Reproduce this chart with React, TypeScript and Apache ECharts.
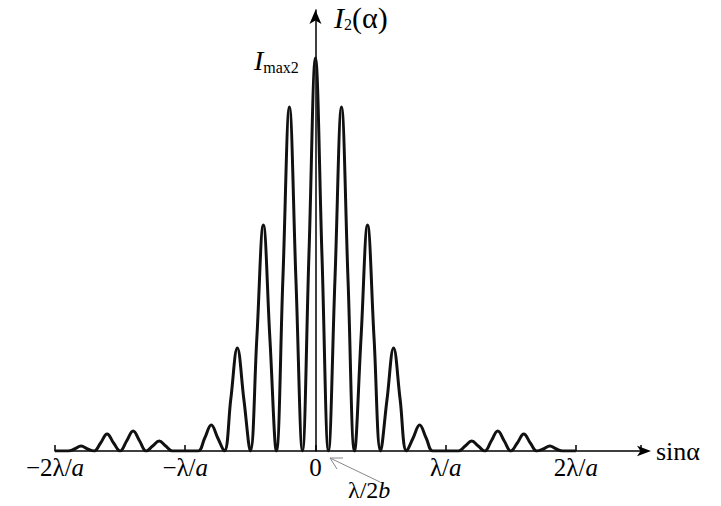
import { useEffect, useRef } from 'react'
import * as echarts from 'echarts'

// sin α, in units of λ/a
const SIN_X = [
  -2, -1.95, -1.9, -1.85, -1.8, -1.75, -1.7, -1.65, -1.6, -1.55, -1.5, -1.45, -1.4, -1.35, -1.3, -1.25, -1.2, -1.15, -1.1, -1.05,
  -1, -0.95, -0.9, -0.85, -0.8, -0.75, -0.7, -0.65, -0.6, -0.55, -0.5, -0.45, -0.4, -0.35, -0.3, -0.25, -0.2, -0.15, -0.1, -0.05,
  0,
  0.05, 0.1, 0.15, 0.2, 0.25, 0.3, 0.35, 0.4, 0.45, 0.5, 0.55, 0.6, 0.65, 0.7, 0.75, 0.8, 0.85, 0.9, 0.95, 1,
  1.05, 1.1, 1.15, 1.2, 1.25, 1.3, 1.35, 1.4, 1.45, 1.5, 1.55, 1.6, 1.65, 1.7, 1.75, 1.8, 1.85, 1.9, 1.95, 2,
]
// intensity I2(α)
const INTENSITY = [
  0, 0, 0, 2, 5, 2, 0, 8, 17, 8, 0, 10, 20, 10, 0, 5, 10, 5, 0, 0,
  0, 0, 0, 13, 26, 13, 0, 52, 103, 52, 0, 113, 226, 113, 0, 172, 344, 172, 0, 196,
  393,
  196, 0, 172, 344, 172, 0, 113, 226, 113, 0, 52, 103, 52, 0, 13, 26, 13, 0, 0, 0,
  0, 0, 5, 10, 5, 0, 10, 20, 10, 0, 8, 17, 8, 0, 2, 5, 2, 0, 0, 0,
]
const TICK_LABELS: Record<number, string> = { [-2]: '−2λ/{i|a}', [-1]: '−λ/{i|a}', 0: '0', 1: 'λ/{i|a}', 2: '2λ/{i|a}' }

const SERIF = '"Liberation Serif", "DejaVu Serif", serif'

export default function App() {
  const ref = useRef<HTMLDivElement>(null)

  useEffect(() => {
    if (!ref.current) return
    document.body.style.margin = '0'
    const chart = echarts.init(ref.current, undefined, { renderer: 'svg' })
    chart.setOption({
      animation: false,
      backgroundColor: '#fff',
      grid: { left: 55, right: 80, top: 10, bottom: 55 },
      xAxis: {
        type: 'value', min: -2, max: 2.5, interval: 1,
        splitLine: { show: false },
        axisLine: { lineStyle: { color: '#000', width: 1.5 }, symbol: ['none', 'arrow'], symbolSize: [8, 14], symbolOffset: [0, 10] },
        axisTick: { inside: true, length: 6, lineStyle: { color: '#000', width: 1.5 } },
        axisLabel: {
          margin: 4, fontFamily: SERIF, fontSize: 25, color: '#000',
          formatter: (v: number) => TICK_LABELS[v] ?? '',
          rich: { i: { fontFamily: SERIF, fontSize: 25, fontStyle: 'italic', color: '#000' } },
        },
      },
      yAxis: {
        type: 'value', min: 0, max: 441,
        splitLine: { show: false },
        axisLabel: { show: false },
        axisTick: { show: false },
        axisLine: { onZero: true, lineStyle: { color: '#000', width: 1.5 }, symbol: ['none', 'arrow'], symbolSize: [9, 14] },
      },
      series: [{
        type: 'line',
        data: SIN_X.map((x, i) => [x, INTENSITY[i]]),
        smooth: 0.4,
        showSymbol: false,
        lineStyle: { color: '#111', width: 3 },
      }],
      graphic: [
        { type: 'text', left: 334, top: 2, style: { text: '{i|I}{s|2}(α)', fontFamily: SERIF, fontSize: 30, fill: '#000',
          rich: { i: { fontFamily: SERIF, fontSize: 30, fontStyle: 'italic' }, s: { fontFamily: SERIF, fontSize: 16, verticalAlign: 'bottom', padding: [14, 0, 0, 0] } } } },
        { type: 'text', left: 254, top: 46, style: { text: '{i|I}{s|max2}', fontFamily: SERIF, fill: '#000',
          rich: { i: { fontFamily: SERIF, fontSize: 28, fontStyle: 'italic' }, s: { fontFamily: SERIF, fontSize: 16, padding: [14, 0, 0, 0] } } } },
        { type: 'text', left: 656, top: 438, style: { text: 'sinα', fontFamily: SERIF, fontSize: 26, fill: '#000' } },
        { type: 'text', left: 348, top: 478, style: { text: 'λ/2{i|b}', fontFamily: SERIF, fontSize: 24, fill: '#000',
          rich: { i: { fontFamily: SERIF, fontSize: 24, fontStyle: 'italic' } } } },
        { type: 'line', shape: { x1: 380, y1: 482, x2: 330, y2: 458 }, style: { stroke: '#888', lineWidth: 1 } },
        { type: 'polyline', shape: { points: [[343, 458], [330, 458], [337, 469]] }, style: { stroke: '#888', lineWidth: 1, fill: 'none' } },
      ],
    })
    return () => chart.dispose()
  }, [])

  return <div ref={ref} style={{ width: 721, height: 506 }} />
}
